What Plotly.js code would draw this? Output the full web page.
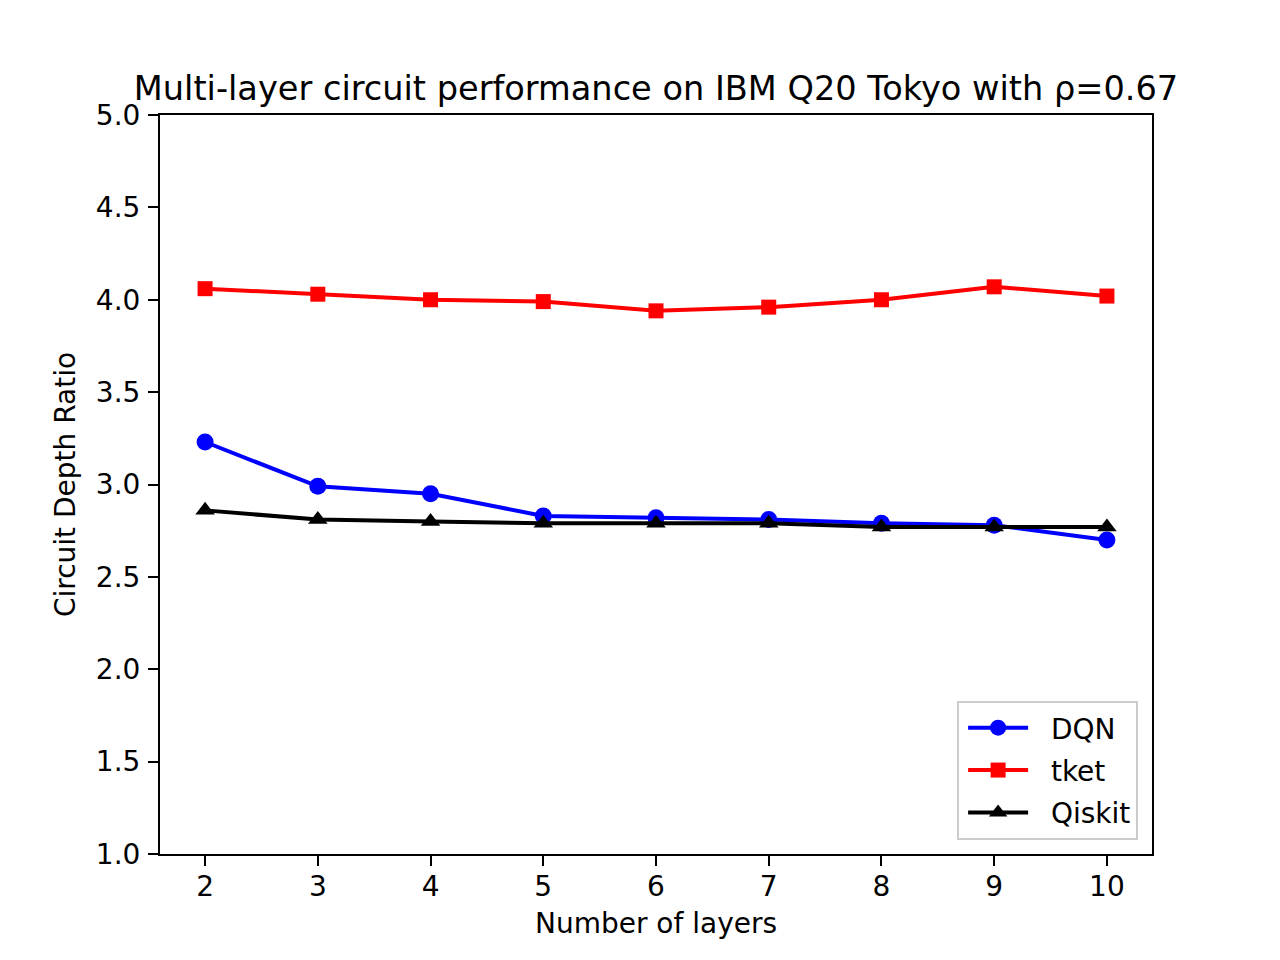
<!DOCTYPE html>
<html>
<head>
<meta charset="utf-8">
<script src="https://cdn.plot.ly/plotly-3.0.1.min.js"></script>
<style>
  html, body { margin: 0; padding: 0; background: #fff; }
  #chart { width: 1280px; height: 960px; }
</style>
</head>
<body>
<div id="chart"></div>
<script>
// layer counts on the x axis
const layers = [2, 3, 4, 5, 6, 7, 8, 9, 10];

// circuit depth ratio per method
const dqn    = [3.23, 2.99, 2.95, 2.83, 2.82, 2.81, 2.79, 2.78, 2.70];
const tket   = [4.06, 4.03, 4.00, 3.99, 3.94, 3.96, 4.00, 4.07, 4.02];
const qiskit = [2.86, 2.81, 2.80, 2.79, 2.79, 2.79, 2.77, 2.77, 2.77];

const yTicks = [1.0, 1.5, 2.0, 2.5, 3.0, 3.5, 4.0, 4.5, 5.0];

const fuente = 'DejaVu Sans, sans-serif';

const series = [
  { name: 'DQN',    data: dqn,    color: '#0000ff', symbol: 'circle',      size: 17 },
  { name: 'tket',   data: tket,   color: '#ff0000', symbol: 'square',      size: 15 },
  { name: 'Qiskit', data: qiskit, color: '#000000', symbol: 'triangle-up', size: 17 }
];

// espacio extra entre el símbolo y el texto de la leyenda
const sangria = '\u00a0\u00a0';

const traces = series.map((s, i) => ({
  x: layers,
  y: s.data,
  type: 'scatter',
  mode: 'lines+markers',
  name: sangria + s.name,
  legendgroup: 'g' + i,
  line: { color: s.color, width: 4 },
  marker: { color: s.color, symbol: s.symbol, size: s.size, line: { width: 0 } }
}));

const ejeComun = {
  showgrid: false,
  zeroline: false,
  showline: true,
  mirror: true,
  linecolor: '#000',
  linewidth: 2,
  ticks: 'outside',
  ticklen: 10,
  tickwidth: 2,
  tickcolor: '#000',
  tickfont: { family: fuente, size: 28, color: '#000' }
};

const layout = {
  width: 1280,
  height: 960,
  margin: { l: 160, r: 128, t: 115, b: 106 },
  paper_bgcolor: '#fff',
  plot_bgcolor: '#fff',
  font: { family: fuente, color: '#000' },
  title: {
    text: 'Multi-layer circuit performance on IBM Q20 Tokyo with ρ=0.67',
    font: { family: fuente, size: 33.6, color: '#000' },
    x: 656 / 1280,
    xanchor: 'center',
    xref: 'container',
    y: 1 - 88 / 960,
    yanchor: 'middle',
    yref: 'container'
  },
  xaxis: Object.assign({}, ejeComun, {
    range: [1.6, 10.4],
    tickvals: layers,
    ticktext: layers.map(String),
    ticklabelstandoff: -4,
    title: { text: 'Number of layers', font: { family: fuente, size: 28, color: '#000' }, standoff: 12 }
  }),
  yaxis: Object.assign({}, ejeComun, {
    range: [1.0, 5.0],
    tickvals: yTicks,
    ticktext: yTicks.map(v => v.toFixed(1)),
    ticklabelstandoff: 2,
    title: { text: 'Circuit Depth Ratio', font: { family: fuente, size: 28, color: '#000' }, standoff: 12 }
  }),
  showlegend: true,
  legend: {
    x: 0.986,
    y: 0.019,
    xanchor: 'right',
    yanchor: 'bottom',
    bgcolor: 'rgba(255,255,255,0.8)',
    bordercolor: '#cccccc',
    borderwidth: 2,
    tracegroupgap: 3,
    indentation: 4,
    font: { family: fuente, size: 28, color: '#000' },
    itemwidth: 60
  }
};

Plotly.newPlot('chart', traces, layout, { displayModeBar: false, staticPlot: true });
</script>
</body>
</html>
